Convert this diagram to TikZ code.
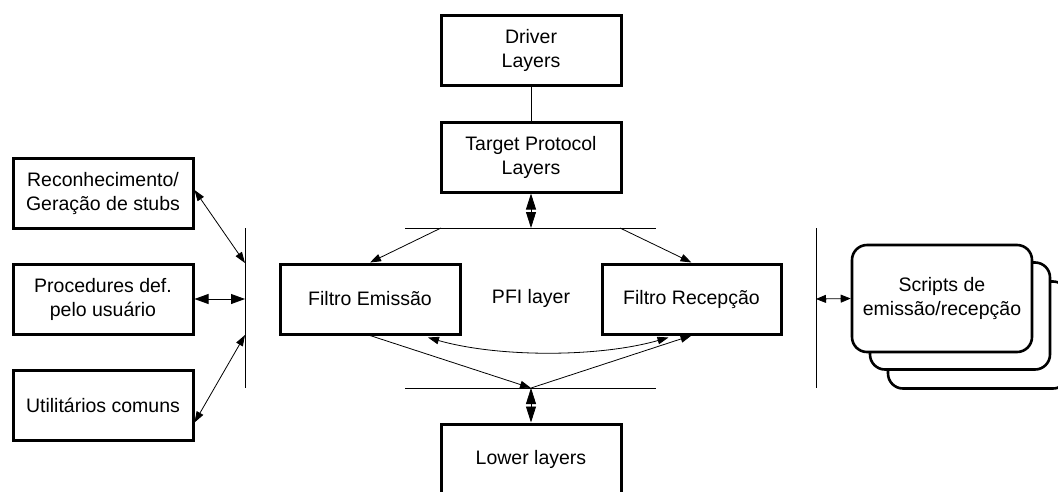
\documentclass[tikz,border=0pt]{standalone}
\usepackage{fontspec}
\setmainfont{Liberation Sans}
\usetikzlibrary{arrows.meta}
\begin{document}
\begin{tikzpicture}[x=1pt,y=-1pt,
  box/.style={draw,line width=3pt,fill=white,minimum width=180pt,minimum height=70pt,
    align=center,inner sep=0pt,font=\fontsize{19.5}{24}\selectfont},
  sbox/.style={draw,line width=2.6pt,fill=white,rounded corners=15pt,minimum width=180pt,
    minimum height=107pt,align=center,inner sep=0pt,font=\fontsize{19.5}{24}\selectfont},
  bar/.style={line width=0.9pt},
  conn/.style={line width=0.8pt},
  tip/.style={-{Triangle[length=11pt,width=7.5pt]}},
  dtip/.style={{Triangle[length=11pt,width=7.5pt]}-{Triangle[length=11pt,width=7.5pt]}},
  btip/.style={{Triangle[length=16pt,width=10pt]}-{Triangle[length=16pt,width=10pt]}},
  mtip/.style={{Triangle[length=14pt,width=10pt]}-{Triangle[length=14pt,width=10pt]}},
  stip/.style={{Triangle[length=10pt,width=8pt]}-{Triangle[length=10pt,width=8pt]}},
  lbl/.style={font=\fontsize{19.5}{24}\selectfont}]
\useasboundingbox (0,0) rectangle (1058,491);
\clip (0,0) rectangle (1058,491);

% central stack
\node[box] (driver) at (531,50) {Driver\\Layers};
\node[box] (target) at (531,157) {Target Protocol\\Layers};
\node[box] (emis) at (370,299) {Filtro Emissão};
\node[box,minimum width=179pt] (recep) at (691.5,299) {Filtro Recepção};
\node[box] (lower) at (531,459) {Lower layers};
\node[lbl] (pfi) at (531,298) {PFI layer};

% left-hand modules
\node[box] (reco) at (103,193) {Reconhecimento/\\Geração de stubs};
\node[box] (proc) at (103,299) {Procedures def.\\pelo usuário};
\node[box] (util) at (103,405.5) {Utilitários comuns};

% stacked script cards
\node[sbox] (s3) at (978,335) {};
\node[sbox] (s2) at (960,316) {};
\node[sbox] (s1) at (942,298.5) {Scripts de\\emissão/recepção};

% bars
\coordinate (tbL) at (405,228); \coordinate (tbR) at (656,228);
\coordinate (bbL) at (405,388); \coordinate (bbR) at (656,388);
\coordinate (lbT) at (245,228); \coordinate (lbB) at (245,388);
\coordinate (rbT) at (816,228); \coordinate (rbB) at (816,388);
\draw[bar] (tbL) -- (tbR);
\draw[bar] (bbL) -- (bbR);
\draw[bar] (lbT) -- (lbB);
\draw[bar] (rbT) -- (rbB);

% points on the bars
\coordinate (tbC) at (531,228);
\coordinate (tbE) at (441,228);
\coordinate (tbF) at (620,228);
\coordinate (bbC) at (531,388);
\coordinate (lb1) at (245,263);
\coordinate (lb2) at (245,299);
\coordinate (lb3) at (245,335);
\coordinate (rb1) at (816,299);

% connectors
\draw[conn] (driver.south) -- (target.north);
\draw[conn,btip] (target.south) -- (tbC);
\draw[conn,btip] (bbC) -- (lower.north);
\draw[conn,tip] (tbE) -- (emis.north);
\draw[conn,tip] (tbF) -- (recep.north);
\draw[conn,tip] (emis.south) -- (bbC);
\draw[conn,tip] (bbC) -- (recep.south);
\draw[conn,dtip] ([xshift=58pt,yshift=-2pt]emis.south) .. controls +(70,20) and +(-70,20) .. ([xshift=-23pt,yshift=-2pt]recep.south);

\draw[conn,dtip] ([yshift=3pt]reco.east) -- (lb1);
\draw[conn,mtip] (proc.east) -- (lb2);
\draw[conn,dtip] ([yshift=-17pt]util.east) -- (lb3);
\draw[conn,stip] (rb1) -- (s1.west);
\end{tikzpicture}
\end{document}
